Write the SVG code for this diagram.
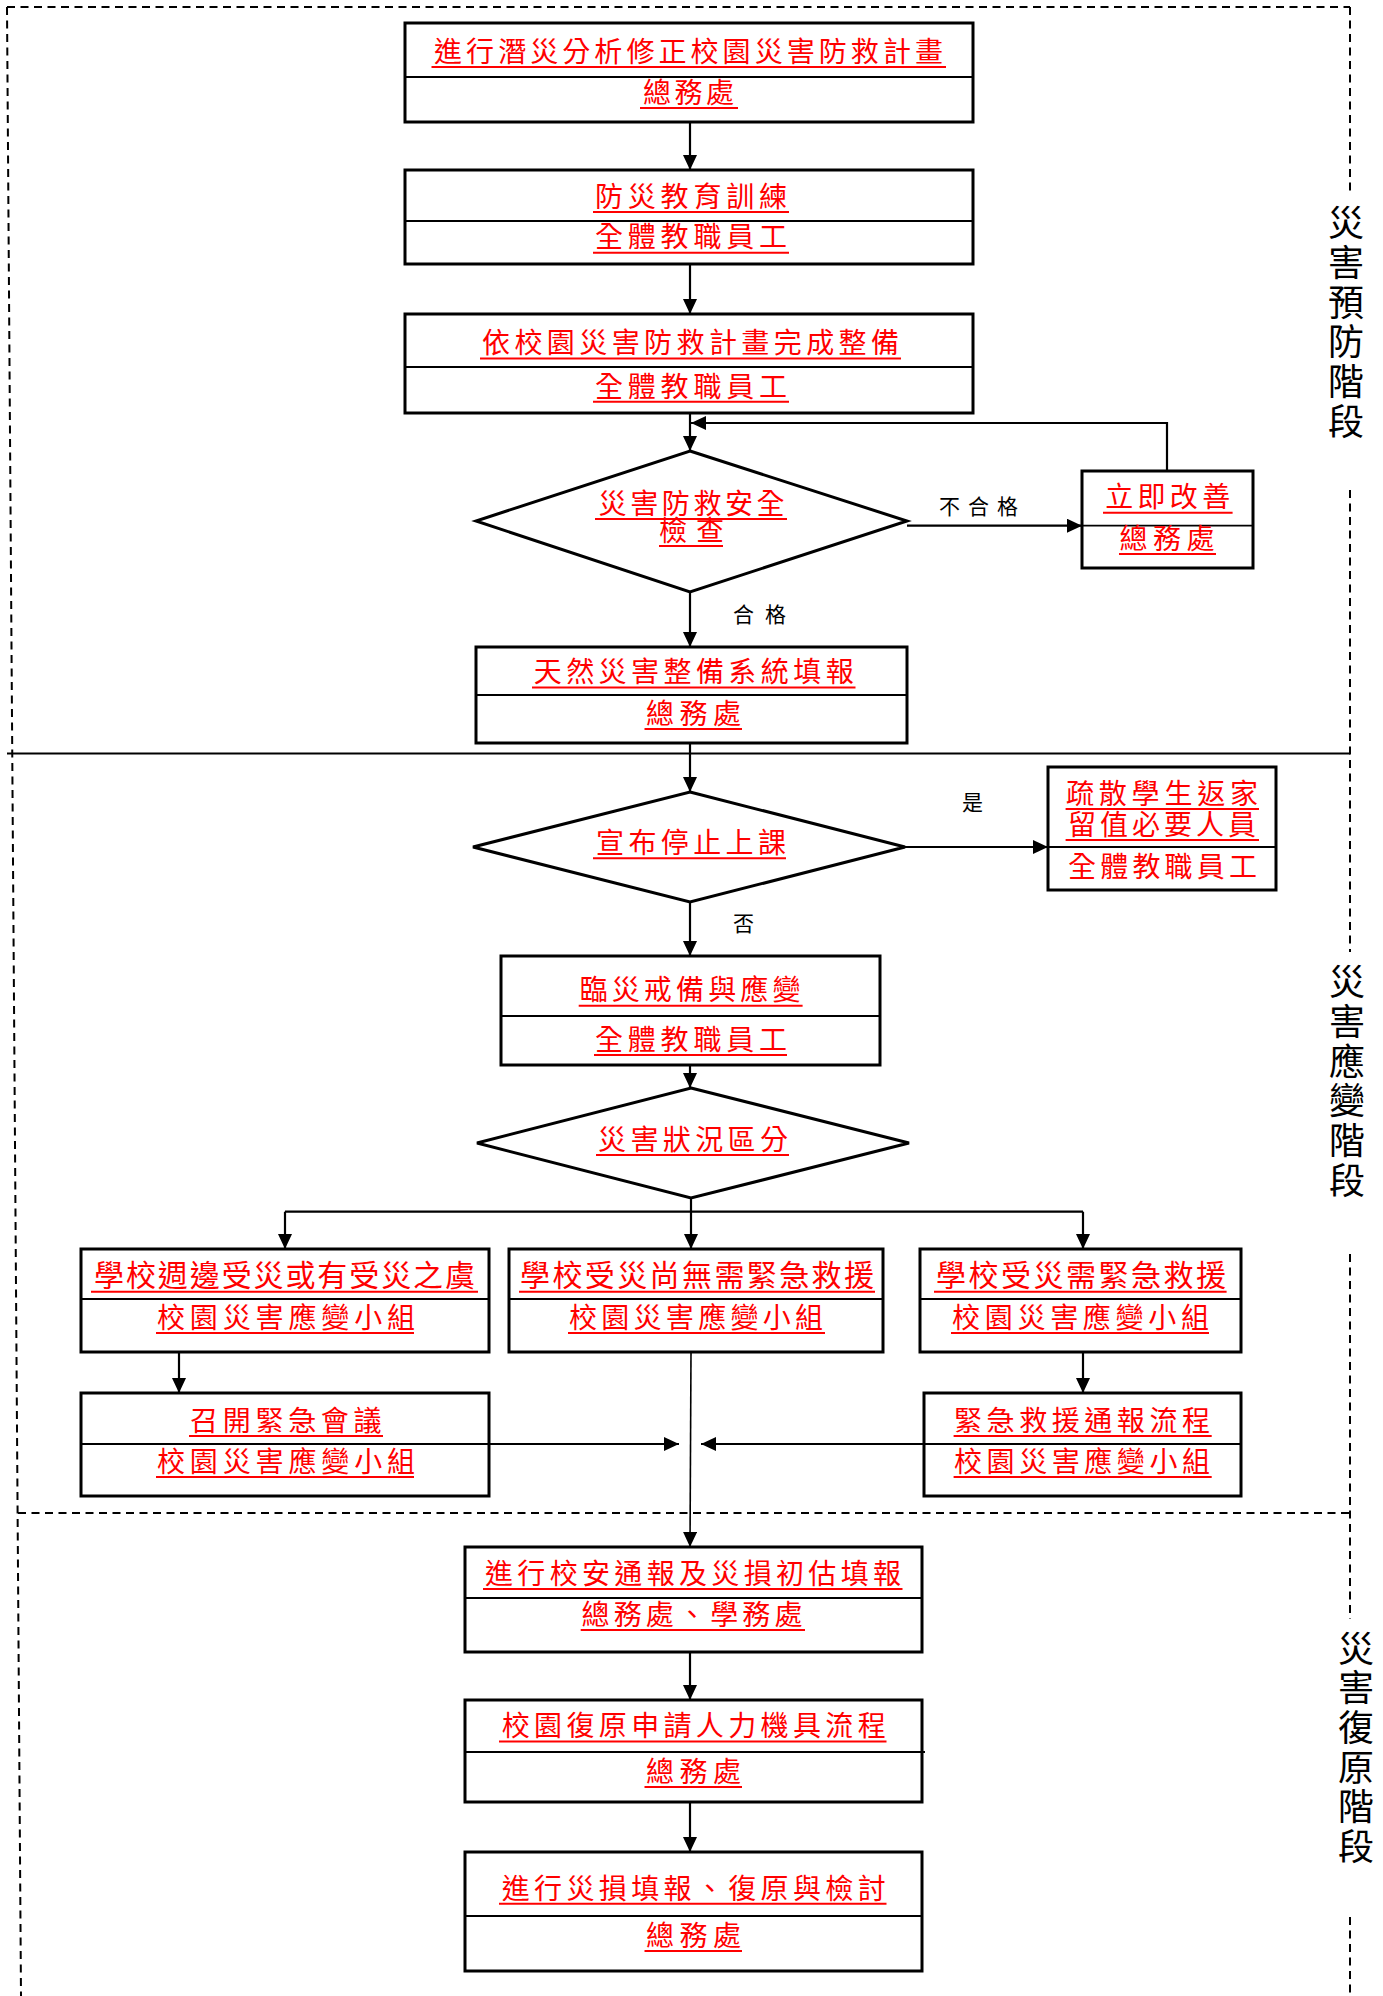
<svg xmlns="http://www.w3.org/2000/svg" width="1383" height="1996" viewBox="0 0 1383 1996">
<style>
.bg{fill:#fff}
.box{fill:#fff;stroke:#000;stroke-width:3}
.dv{stroke:#000;stroke-width:1.8}
.dia{fill:#fff;stroke:#000;stroke-width:3;stroke-linejoin:miter}
.t{font-family:"Noto Sans CJK TC","Noto Sans CJK SC",sans-serif;font-size:28px;fill:#f00;text-anchor:middle}
.t30{font-size:30px}
.ul{stroke:#f00;stroke-width:2}
.lbl{font-family:"Noto Sans CJK TC","Noto Sans CJK SC",sans-serif;font-size:21px;fill:#000;text-anchor:middle}
.side{font-family:"Noto Sans CJK TC","Noto Sans CJK SC",sans-serif;font-size:36px;fill:#000;writing-mode:vertical-rl;text-anchor:start;letter-spacing:3.7px}
.c{stroke:#000;stroke-width:2.2;fill:none}
.cthin{stroke:#000;stroke-width:1.6;fill:none}
.dash{stroke:#000;stroke-width:2;stroke-dasharray:8 5.5;fill:none}
.solid{stroke:#000;stroke-width:2;fill:none}
</style>
<defs>
<marker id="ah" markerUnits="userSpaceOnUse" markerWidth="16" markerHeight="15" refX="15" refY="7" orient="auto">
<path d="M0,0 L15,7 L0,14 Z" fill="#000"/>
</marker>
</defs>
<rect class="bg" x="0" y="0" width="1383" height="1996"/>

<g id="frame">
<line class="dash" x1="7" y1="7" x2="1350" y2="7"/>
<line class="dash" x1="7" y1="7" x2="21" y2="1996"/>
<line class="dash" x1="1350" y1="7" x2="1350" y2="192"/>
<line class="dash" x1="1350" y1="490" x2="1350" y2="952"/>
<line class="dash" x1="1350" y1="1254" x2="1350" y2="1619"/>
<line class="dash" x1="1350" y1="1917" x2="1350" y2="1996"/>
<line class="solid" x1="7" y1="753.6" x2="1350" y2="753.6"/>
<line class="dash" x1="18" y1="1513" x2="1350" y2="1513"/>
<text class="side" x="1346" y="204.5">災害預防階段</text>
<text class="side" x="1347" y="963.5">災害應變階段</text>
<text class="side" x="1356" y="1630">災害復原階段</text>
</g>

<g id="connectors">
<line class="c" x1="690" y1="122" x2="690" y2="170" marker-end="url(#ah)"/>
<line class="c" x1="690" y1="264" x2="690" y2="314" marker-end="url(#ah)"/>
<line class="c" x1="690" y1="413" x2="690" y2="451" marker-end="url(#ah)"/>
<polyline class="c" points="1167,471 1167,423 691,423" marker-end="url(#ah)"/>
<line class="c" x1="907" y1="525.7" x2="1082" y2="525.7" marker-end="url(#ah)"/>
<line class="c" x1="690" y1="592" x2="690" y2="647" marker-end="url(#ah)"/>
<line class="c" x1="690" y1="743" x2="690" y2="792" marker-end="url(#ah)"/>
<line class="c" x1="905" y1="847" x2="1048" y2="847" marker-end="url(#ah)"/>
<line class="c" x1="690" y1="902" x2="690" y2="956" marker-end="url(#ah)"/>
<line class="c" x1="690" y1="1065" x2="690" y2="1088" marker-end="url(#ah)"/>
<line class="c" x1="691" y1="1198" x2="691" y2="1249" marker-end="url(#ah)"/>
<line class="c" x1="285" y1="1211.7" x2="1083" y2="1211.7"/>
<line class="c" x1="285" y1="1211.7" x2="285" y2="1249" marker-end="url(#ah)"/>
<line class="c" x1="1083" y1="1211.7" x2="1083" y2="1249" marker-end="url(#ah)"/>
<line class="c" x1="179" y1="1349" x2="179" y2="1393" marker-end="url(#ah)"/>
<line class="c" x1="1083" y1="1352" x2="1083" y2="1393" marker-end="url(#ah)"/>
<line class="c" x1="489" y1="1444" x2="679" y2="1444" marker-end="url(#ah)"/>
<line class="c" x1="924" y1="1444" x2="701" y2="1444" marker-end="url(#ah)"/>
<line class="cthin" x1="691" y1="1352" x2="690" y2="1547" marker-end="url(#ah)"/>
<line class="c" x1="690" y1="1652" x2="690" y2="1700" marker-end="url(#ah)"/>
<line class="c" x1="690" y1="1802" x2="690" y2="1852" marker-end="url(#ah)"/>
<text class="lbl" x="978.5" y="514" textLength="79">不合格</text>
<text class="lbl" x="759.5" y="622" textLength="53">合格</text>
<text class="lbl" x="972.5" y="810">是</text>
<text class="lbl" x="743.5" y="931">否</text>
</g>

<g id="n1">
<rect class="box" x="405" y="23" width="568" height="99"/>
<line class="dv" x1="405" y1="77" x2="973" y2="77"/>
<text class="t" x="688.5" y="61.5" textLength="509">進行潛災分析修正校園災害防救計畫</text>
<line class="ul" x1="431.5" y1="67" x2="946" y2="67"/>
<text class="t" x="688.5" y="102.5" textLength="91">總務處</text>
<line class="ul" x1="640" y1="108" x2="738" y2="108"/>
</g>

<g id="n2">
<rect class="box" x="405" y="170" width="568" height="94"/>
<line class="dv" x1="405" y1="221" x2="973" y2="221"/>
<text class="t" x="691" y="206.5" textLength="192">防災教育訓練</text>
<line class="ul" x1="593" y1="212" x2="789" y2="212"/>
<text class="t" x="691" y="247" textLength="192">全體教職員工</text>
<line class="ul" x1="593" y1="252.7" x2="789" y2="252.7"/>
</g>

<g id="n3">
<rect class="box" x="405" y="314" width="568" height="99"/>
<line class="dv" x1="405" y1="367" x2="973" y2="367"/>
<text class="t" x="690.5" y="353" textLength="417">依校園災害防救計畫完成整備</text>
<line class="ul" x1="480" y1="358.5" x2="901" y2="358.5"/>
<text class="t" x="691" y="396.5" textLength="192">全體教職員工</text>
<line class="ul" x1="593" y1="401.8" x2="789" y2="401.8"/>
</g>

<g id="d1">
<polygon class="dia" points="690,451 907,521 690,592 476,521"/>
<text class="t"><tspan x="691.6" y="513.5" textLength="186">災害防救安全</tspan><tspan x="691.5" y="540.5" textLength="65">檢查</tspan></text>
<line class="ul" x1="595" y1="519" x2="787" y2="519"/>
<line class="ul" x1="659" y1="546" x2="723" y2="546"/>
</g>

<g id="n4">
<rect class="box" x="1082" y="471" width="171" height="97"/>
<line class="dv" x1="1082" y1="525.7" x2="1253" y2="525.7"/>
<text class="t" x="1167.7" y="507" textLength="125">立即改善</text>
<line class="ul" x1="1103" y1="512.7" x2="1232.6" y2="512.7"/>
<text class="t" x="1167" y="548.5" textLength="95">總務處</text>
<line class="ul" x1="1119" y1="554" x2="1216" y2="554"/>
</g>

<g id="n5">
<rect class="box" x="476" y="647" width="431" height="96"/>
<line class="dv" x1="476" y1="695" x2="907" y2="695"/>
<text class="t" x="693.7" y="682" textLength="320">天然災害整備系統填報</text>
<line class="ul" x1="532" y1="687.5" x2="855.5" y2="687.5"/>
<text class="t" x="693.5" y="723.5" textLength="95">總務處</text>
<line class="ul" x1="644.5" y1="729" x2="742" y2="729"/>
</g>

<g id="d2">
<polygon class="dia" points="690,792 905,847 690,902 473,847"/>
<text class="t" x="691" y="853" textLength="190">宣布停止上課</text>
<line class="ul" x1="593" y1="858.3" x2="786" y2="858.3"/>
</g>

<g id="n6">
<rect class="box" x="1048" y="767" width="228" height="123"/>
<line class="dv" x1="1048" y1="847" x2="1276" y2="847"/>
<text class="t"><tspan x="1162" y="803.5" textLength="192">疏散學生返家</tspan><tspan x="1162" y="834.5" textLength="188">留值必要人員</tspan></text>
<line class="ul" x1="1065.6" y1="809" x2="1259" y2="809"/>
<line class="ul" x1="1065.6" y1="840" x2="1259" y2="840"/>
<text class="t" x="1162.5" y="876.5" textLength="189">全體教職員工</text>
</g>

<g id="n7">
<rect class="box" x="501" y="956" width="379" height="109"/>
<line class="dv" x1="501" y1="1016" x2="880" y2="1016"/>
<text class="t" x="690" y="1000" textLength="221">臨災戒備與應變</text>
<line class="ul" x1="578.7" y1="1005.7" x2="802.6" y2="1005.7"/>
<text class="t" x="691" y="1049.5" textLength="192">全體教職員工</text>
<line class="ul" x1="594" y1="1055" x2="787" y2="1055"/>
</g>

<g id="d3">
<polygon class="dia" points="691,1088 909,1143 691,1198 477,1143"/>
<text class="t" x="693" y="1149.5" textLength="190">災害狀況區分</text>
<line class="ul" x1="596" y1="1155" x2="789" y2="1155"/>
</g>

<g id="nA">
<rect class="box" x="81" y="1249" width="408" height="103"/>
<line class="dv" x1="81" y1="1299" x2="489" y2="1299"/>
<text class="t t30" x="284.5" y="1286" textLength="381">學校週邊受災或有受災之虞</text>
<line class="ul" x1="91" y1="1291.7" x2="478" y2="1291.7"/>
<text class="t" x="286" y="1327.5" textLength="258">校園災害應變小組</text>
<line class="ul" x1="156" y1="1333" x2="414" y2="1333"/>
</g>

<g id="nB">
<rect class="box" x="509" y="1249" width="374" height="103"/>
<line class="dv" x1="509" y1="1299" x2="883" y2="1299"/>
<text class="t t30" x="697" y="1286" textLength="354">學校受災尚無需緊急救援</text>
<line class="ul" x1="519" y1="1291.7" x2="875" y2="1291.7"/>
<text class="t" x="696" y="1327.5" textLength="254">校園災害應變小組</text>
<line class="ul" x1="568" y1="1333" x2="825" y2="1333"/>
</g>

<g id="nC">
<rect class="box" x="920" y="1249" width="321" height="103"/>
<line class="dv" x1="920" y1="1299" x2="1241" y2="1299"/>
<text class="t t30" x="1081" y="1286" textLength="290">學校受災需緊急救援</text>
<line class="ul" x1="934" y1="1291.7" x2="1226.6" y2="1291.7"/>
<text class="t" x="1080.5" y="1327.5" textLength="257">校園災害應變小組</text>
<line class="ul" x1="951" y1="1333" x2="1209" y2="1333"/>
</g>

<g id="nD">
<rect class="box" x="81" y="1393" width="408" height="103"/>
<line class="dv" x1="81" y1="1444" x2="489" y2="1444"/>
<text class="t" x="285.8" y="1430.5" textLength="191.6">召開緊急會議</text>
<line class="ul" x1="189" y1="1436" x2="383" y2="1436"/>
<text class="t" x="286" y="1471.5" textLength="258">校園災害應變小組</text>
<line class="ul" x1="156" y1="1477" x2="414" y2="1477"/>
</g>

<g id="nE">
<rect class="box" x="924" y="1393" width="317" height="103"/>
<line class="dv" x1="924" y1="1444" x2="1241" y2="1444"/>
<text class="t" x="1082" y="1430.5" textLength="256">緊急救援通報流程</text>
<line class="ul" x1="953.6" y1="1436" x2="1211.7" y2="1436"/>
<text class="t" x="1082" y="1471.5" textLength="256">校園災害應變小組</text>
<line class="ul" x1="953.6" y1="1477" x2="1211.7" y2="1477"/>
</g>

<g id="nF">
<rect class="box" x="465" y="1547" width="457" height="105"/>
<line class="dv" x1="465" y1="1598" x2="922" y2="1598"/>
<text class="t" x="693" y="1583.5" textLength="416">進行校安通報及災損初估填報</text>
<line class="ul" x1="483" y1="1589" x2="902.5" y2="1589"/>
<text class="t" x="692" y="1624.5" textLength="221">總務處、學務處</text>
<line class="ul" x1="580.7" y1="1630" x2="805" y2="1630"/>
</g>

<g id="nG">
<rect class="box" x="465" y="1700" width="457" height="102"/>
<line class="dv" x1="465" y1="1752" x2="925" y2="1752"/>
<text class="t" x="693.7" y="1736" textLength="384">校園復原申請人力機具流程</text>
<line class="ul" x1="499" y1="1741.4" x2="886.5" y2="1741.4"/>
<text class="t" x="693.5" y="1781.5" textLength="95">總務處</text>
<line class="ul" x1="644.5" y1="1787" x2="742" y2="1787"/>
</g>

<g id="nH">
<rect class="box" x="465" y="1852" width="457" height="119"/>
<line class="dv" x1="465" y1="1916" x2="922" y2="1916"/>
<text class="t" x="693.7" y="1898.5" textLength="384">進行災損填報、復原與檢討</text>
<line class="ul" x1="499" y1="1903.8" x2="886.5" y2="1903.8"/>
<text class="t" x="693.5" y="1945.5" textLength="95">總務處</text>
<line class="ul" x1="644.5" y1="1951" x2="742" y2="1951"/>
</g>
</svg>
